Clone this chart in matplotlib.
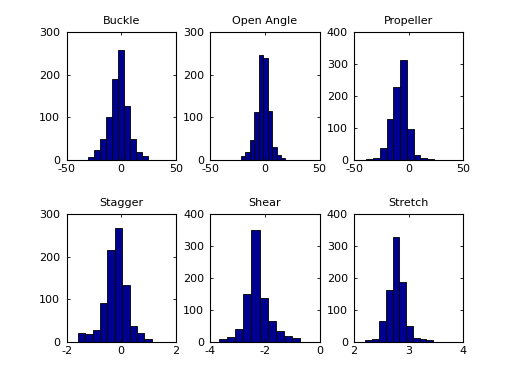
import matplotlib
matplotlib.use('Agg')
import matplotlib.pyplot as plt
import numpy as np

plt.rcParams['font.family'] = ['DejaVu Sans']
plt.rcParams['font.size'] = 8
plt.rcParams['axes.unicode_minus'] = False

# panel titles
titles = ['Buckle', 'Open Angle', 'Propeller', 'Stagger', 'Shear', 'Stretch']

# histogram counts (10 bins each)
buckle_counts = [8, 23, 49, 100, 190, 258, 127, 49, 18, 9]
open_angle_counts = [9, 20, 47, 113, 246, 240, 115, 30, 12, 4]
propeller_counts = [3, 6, 37, 128, 228, 312, 97, 15, 6, 3]
stagger_counts = [21, 19, 28, 92, 215, 268, 133, 38, 21, 7]
shear_counts = [8, 16, 40, 151, 351, 136, 65, 34, 19, 12]
stretch_counts = [5, 8, 65, 162, 328, 187, 50, 12, 8, 4]

# data range covered by the bins (min, max)
buckle_range = (-30.5, 24.1)
open_angle_range = (-21.9, 18.7)
propeller_range = (-38.9, 23.1)
stagger_range = (-1.59, 1.12)
shear_range = (-3.69, -0.70)
stretch_range = (2.207, 3.448)

# axis limits and ticks
xlims = [(-50, 50), (-50, 50), (-50, 50), (-2, 2), (-4, 0), (2, 4)]
xticks = [[-50, 0, 50], [-50, 0, 50], [-50, 0, 50], [-2, 0, 2], [-4, -2, 0], [2, 3, 4]]
ymax = [300, 300, 400, 300, 400, 400]

counts = [buckle_counts, open_angle_counts, propeller_counts,
          stagger_counts, shear_counts, stretch_counts]
ranges = [buckle_range, open_angle_range, propeller_range,
          stagger_range, shear_range, stretch_range]

fig = plt.figure(figsize=(5.12, 3.84), dpi=100)
lefts = [0.13, 0.4108, 0.6916]
bottoms = [0.5833, 0.110]
w, h = 0.2134, 0.3325

for i in range(6):
    r, c = divmod(i, 3)
    ax = fig.add_axes([lefts[c], bottoms[r], w, h])
    edges = np.linspace(ranges[i][0], ranges[i][1], len(counts[i]) + 1)
    ax.bar(edges[:-1], counts[i], width=np.diff(edges), align='edge',
           color='#000090', edgecolor='black', linewidth=0.6)
    ax.set_xlim(*xlims[i])
    ax.set_ylim(0, ymax[i])
    ax.set_xticks(xticks[i])
    ax.set_yticks(np.arange(0, ymax[i] + 1, 100))
    ax.tick_params(direction='in', length=2, width=0.6, top=True, right=True)
    ax.tick_params(axis='x', pad=3)
    ax.tick_params(axis='y', pad=4.5)
    for s in ax.spines.values():
        s.set_linewidth(0.8)
    ax.set_title(titles[i], fontsize=8, pad=6)

fig.savefig('out.png', dpi=100, facecolor='white')
